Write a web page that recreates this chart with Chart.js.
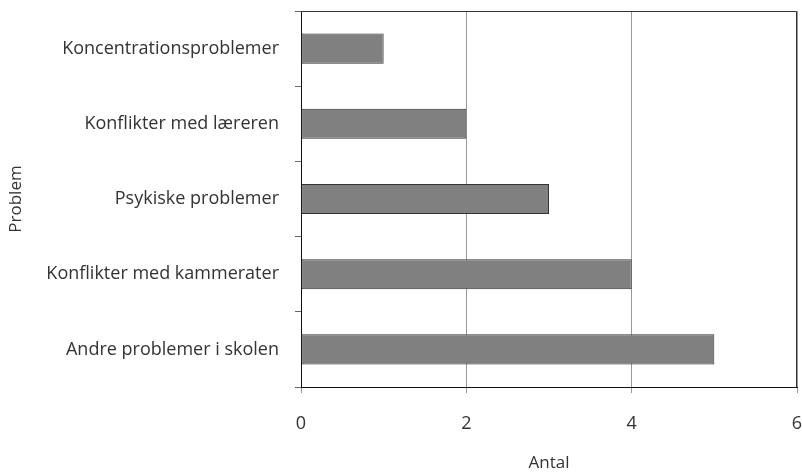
<!DOCTYPE html>
<html>
<head>
<meta charset="utf-8">
<script src="https://cdn.jsdelivr.net/npm/chart.js@4/dist/chart.umd.min.js"></script>
<style>
  html, body { margin: 0; padding: 0; background: #fff; }
  #wrap { width: 802px; height: 473px; }
</style>
</head>
<body>
<div id="wrap"><canvas id="myGraph" width="802" height="473"></canvas></div>
<script>
// data
const problemer = [
    "Koncentrationsproblemer",
    "Konflikter med læreren",
    "Psykiske problemer",
    "Konflikter med kammerater",
    "Andre problemer i skolen"
];
const antal = [1, 2, 3, 4, 5];
const xTicks = [0, 2, 4, 6];

// top + right frame of the plot area
const rammePlugin = {
    id: 'ramme',
    afterDraw(chart) {
        const a = chart.chartArea;
        const c = chart.ctx;
        c.save();
        c.strokeStyle = '#333';
        c.lineWidth = 1;
        c.beginPath();
        c.moveTo(a.left, a.top + 0.5);
        c.lineTo(a.right - 0.5, a.top + 0.5);
        c.lineTo(a.right - 0.5, a.bottom);
        c.stroke();
        c.restore();
    }
};

Chart.defaults.font.family = "'Open Sans', 'DejaVu Sans', sans-serif";
Chart.defaults.color = '#333';

var ctx = document.getElementById('myGraph').getContext('2d');
new Chart(ctx, {
    type: 'bar',
    data: {
        labels: problemer,
        datasets: [{
            label: 'Antal',
            data: antal,
            backgroundColor: '#808080',
            borderColor: '#333',
            borderWidth: 1,
            borderSkipped: false,
            barPercentage: 0.4,
            categoryPercentage: 1
        }]
    },
    options: {
        indexAxis: 'y',
        responsive: false,
        animation: false,
        layout: { padding: { top: 11, right: 5, left: 0, bottom: 0 } },
        plugins: { legend: { display: false }, tooltip: { enabled: false } },
        scales: {
            x: {
                min: 0,
                max: 6,
                afterBuildTicks(scale) { scale.ticks = xTicks.map(v => ({ value: v })); },
                ticks: { font: { size: 18 }, padding: 20, color: '#333' },
                grid: { color: '#999', tickColor: '#999', tickLength: 6 },
                border: { color: '#111' },
                title: { display: true, text: 'Antal', font: { size: 17 }, color: '#333', padding: { top: 8, bottom: 0 } },
                afterFit(scale) {
                    scale.height = 86;
                    scale.paddingLeft = 0;
                    scale.paddingRight = 0;
                }
            },
            y: {
                offset: true,
                ticks: { font: { size: 18 }, padding: 16, color: '#333' },
                grid: { offset: true, drawOnChartArea: false, tickLength: 6, color: '#666', tickColor: '#666' },
                border: { color: '#111' },
                title: { display: true, text: 'Problem', font: { size: 17 }, color: '#333', padding: { top: 6, bottom: 0 } },
                afterFit(scale) {
                    scale.width = 301;
                    scale.paddingTop = 0;
                    scale.paddingBottom = 0;
                }
            }
        }
    },
    plugins: [rammePlugin]
});
</script>
</body>
</html>
